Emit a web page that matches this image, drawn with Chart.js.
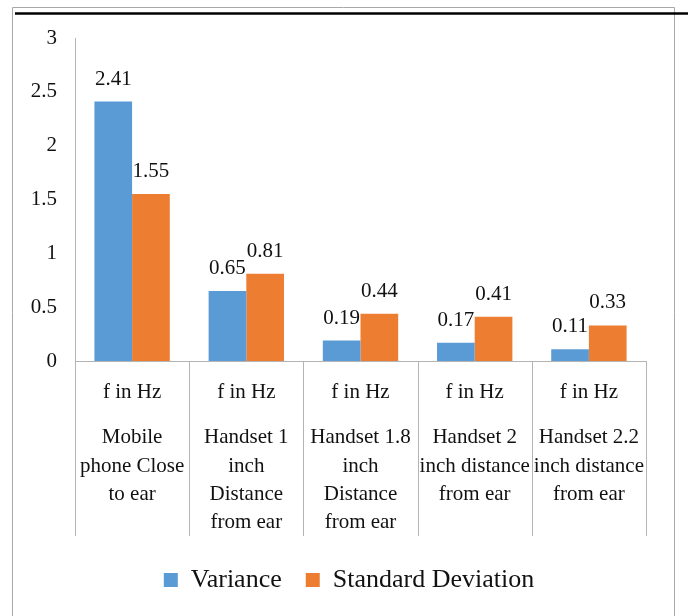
<!DOCTYPE html>
<html>
<head>
<meta charset="utf-8">
<script src="https://cdn.jsdelivr.net/npm/chart.js@4.4.1/dist/chart.umd.min.js"></script>
<style>
  html, body { margin: 0; padding: 0; background: #fff; }
  #wrap { width: 688px; height: 616px; position: relative; }
</style>
</head>
<body>
<div id="wrap"><canvas id="c" width="688" height="616"></canvas></div>
<script>
// Measurement unit shown under every group
const unitLabels = ['f in Hz', 'f in Hz', 'f in Hz', 'f in Hz', 'f in Hz'];
// Phone position for each group (one entry per text line)
const conditions = [
  ['Mobile', 'phone Close', 'to ear'],
  ['Handset 1', 'inch', 'Distance', 'from ear'],
  ['Handset 1.8', 'inch', 'Distance', 'from ear'],
  ['Handset 2', 'inch distance', 'from ear'],
  ['Handset 2.2', 'inch distance', 'from ear']
];
const variance = [2.41, 0.65, 0.19, 0.17, 0.11];
const stdDeviation = [1.55, 0.81, 0.44, 0.41, 0.33];
const yTicks = [0, 0.5, 1, 1.5, 2, 2.5, 3];

const FONT = 'Liberation Serif, Times New Roman, serif';
const TEXT = '#111111';
const AXIS = '#b4b4b4';
const DIVIDER_LENGTH = 175;

// Frame around the chart and the rule across its top
const framePlugin = {
  id: 'frame',
  beforeDraw(chart) {
    const ctx = chart.ctx;
    ctx.save();
    ctx.fillStyle = '#ffffff';
    ctx.fillRect(0, 0, chart.width, chart.height);
    ctx.strokeStyle = '#a8a8a8';
    ctx.lineWidth = 1;
    ctx.beginPath();
    ctx.moveTo(12.5, chart.height + 2);
    ctx.lineTo(12.5, 7.5);
    ctx.lineTo(674.5, 7.5);
    ctx.lineTo(674.5, chart.height + 2);
    ctx.stroke();
    ctx.strokeStyle = '#000000';
    ctx.lineWidth = 2.5;
    ctx.beginPath();
    ctx.moveTo(15, 13.5);
    ctx.lineTo(chart.width, 13.5);
    ctx.stroke();
    ctx.restore();
  }
};

// Value labels above bars and the dividers between category groups
const decorPlugin = {
  id: 'decor',
  afterDraw(chart) {
    const ctx = chart.ctx;
    const x = chart.scales.x;
    ctx.save();
    ctx.strokeStyle = AXIS;
    ctx.lineWidth = 1;
    const n = chart.data.labels.length;
    const w = (x.right - x.left) / n;
    ctx.beginPath();
    for (let i = 0; i <= n; i++) {
      const px = Math.round(x.left + i * w) + 0.5;
      ctx.moveTo(px, x.top);
      ctx.lineTo(px, x.top + DIVIDER_LENGTH);
    }
    ctx.stroke();

    ctx.font = '21px ' + FONT;
    ctx.fillStyle = TEXT;
    ctx.textAlign = 'center';
    ctx.textBaseline = 'alphabetic';
    chart.data.datasets.forEach((ds, i) => {
      const meta = chart.getDatasetMeta(i);
      meta.data.forEach((bar, j) => {
        ctx.fillText(String(ds.data[j]), bar.x, bar.y - 17);
      });
    });
    ctx.restore();
  }
};

new Chart(document.getElementById('c'), {
  type: 'bar',
  data: {
    labels: unitLabels,
    datasets: [
      { label: 'Variance', data: variance, backgroundColor: '#5b9bd5', borderWidth: 0,
        categoryPercentage: 0.66, barPercentage: 1 },
      { label: 'Standard Deviation', data: stdDeviation, backgroundColor: '#ed7d31', borderWidth: 0,
        categoryPercentage: 0.66, barPercentage: 1 }
    ]
  },
  options: {
    responsive: false,
    animation: false,
    devicePixelRatio: 1,
    layout: { padding: { left: 14, right: 4, top: 38, bottom: 13 } },
    plugins: {
      legend: {
        position: 'bottom',
        labels: {
          font: { family: FONT, size: 26 },
          color: TEXT,
          boxWidth: 14,
          boxHeight: 14,
          padding: 24
        }
      },
      tooltip: { enabled: false }
    },
    scales: {
      x: {
        type: 'category',
        offset: true,
        weight: 0,
        grid: { display: false, drawTicks: false },
        border: { display: true, color: AXIS },
        ticks: {
          font: { family: FONT, size: 21, lineHeight: 1.35 },
          color: TEXT, padding: 17, maxRotation: 0, autoSkip: false
        },
        afterFit(s) { s.height = 50; }
      },
      x2: {
        type: 'category',
        labels: conditions,
        position: 'bottom',
        offset: true,
        weight: 1,
        grid: { display: false, drawTicks: false },
        border: { display: false },
        ticks: {
          font: { family: FONT, size: 21, lineHeight: 1.35 },
          color: TEXT, padding: 12.5, maxRotation: 0, autoSkip: false
        },
        afterFit(s) { s.height = 132; }
      },
      y: {
        min: 0,
        max: 3,
        grid: { display: false, drawTicks: false },
        border: { display: true, color: AXIS },
        ticks: {
          font: { family: FONT, size: 21 },
          color: TEXT, padding: 18,
          callback: v => String(v)
        },
        afterBuildTicks(s) { s.ticks = yTicks.map(v => ({ value: v })); },
        afterFit(s) { s.width = 61; }
      },
      // empty right-hand margin of the plot
      yRight: {
        position: 'right',
        grid: { display: false, drawTicks: false },
        border: { display: false },
        ticks: { display: false },
        afterFit(s) { s.width = 38; }
      }
    }
  },
  plugins: [framePlugin, decorPlugin]
});
</script>
</body>
</html>
